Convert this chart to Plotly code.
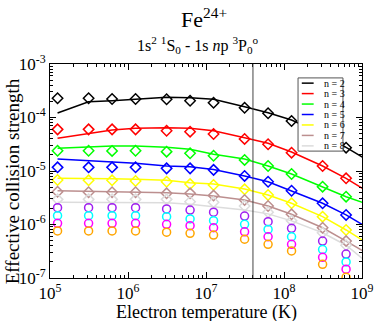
import plotly.graph_objects as go

# ------------------------------------------------------------
# Data
# ------------------------------------------------------------

temps = [1.25e5, 3.125e5, 6.25e5, 1.25e6, 3.125e6, 6.25e6,
         1.25e7, 3.125e7, 6.25e7, 1.25e8, 3.125e8, 6.25e8]
temps_fit = temps + [1.25e9]

labels = ["n = 2", "n = 3", "n = 4", "n = 5", "n = 6", "n = 7", "n = 8"]

n2 = [2.29e-4, 2.29e-4, 2.22e-4, 2.22e-4, 2.19e-4, 2.06e-4, 1.89e-4, 1.52e-4, 1.20e-4, 8.6e-5, 4.6e-5, 2.73e-5]
n3 = [6.0e-5, 6.0e-5, 6.0e-5, 6.0e-5, 5.66e-5, 5.43e-5, 4.92e-5, 3.98e-5, 3.16e-5, 2.2e-5, 1.24e-5, 7.3e-6]
n4 = [2.39e-5, 2.39e-5, 2.37e-5, 2.39e-5, 2.3e-5, 2.14e-5, 1.93e-5, 1.61e-5, 1.24e-5, 8.8e-6, 5.09e-6, 3.31e-6]
n5 = [1.17e-5, 1.17e-5, 1.17e-5, 1.17e-5, 1.12e-5, 1.12e-5, 1.05e-5, 8.1e-6, 6.3e-6, 4.28e-6, 2.49e-6, 1.51e-6]
n6 = [6.8e-6, 6.7e-6, 6.7e-6, 6.5e-6, 6.3e-6, 5.7e-6, 5.47e-6, 4.55e-6, 3.56e-6, 2.49e-6, 1.4e-6, 7.9e-7]
n7 = [4.1e-6, 4.0e-6, 4.0e-6, 4.0e-6, 3.83e-6, 3.83e-6, 3.47e-6, 2.87e-6, 2.22e-6, 1.55e-6, 8.7e-7, 4.9e-7]
n8 = [2.95e-6, 2.95e-6, 2.95e-6, 2.95e-6, 2.95e-6, 2.67e-6, 2.6e-6, 2.22e-6, 1.7e-6, 1.18e-6, 7.0e-7, 4.1e-7]

fit2 = [1.21e-4, 1.97e-4, 2.06e-4, 2.19e-4, 2.39e-4, 2.35e-4, 2.19e-4, 1.59e-4, 1.23e-4, 8.97e-5, 4.9e-5, 2.77e-5, 1.51e-5]
fit3 = [4.08e-5, 5.07e-5, 5.83e-5, 6.3e-5, 6.45e-5, 6.3e-5, 5.66e-5, 4.19e-5, 3.3e-5, 2.27e-5, 1.24e-5, 7.3e-6, 3.9e-6]
fit4 = [2.65e-5, 2.85e-5, 2.93e-5, 2.93e-5, 2.77e-5, 2.55e-5, 2.05e-5, 1.67e-5, 1.24e-5, 8.8e-6, 5.09e-6, 3.31e-6, 2.32e-6]
fit5 = [1.67e-5, 1.56e-5, 1.48e-5, 1.39e-5, 1.24e-5, 1.2e-5, 1.07e-5, 8.1e-6, 6.3e-6, 4.28e-6, 2.49e-6, 1.51e-6, 8.3e-7]
fit6 = [7.3e-6, 7.3e-6, 7.2e-6, 7.0e-6, 6.7e-6, 6.05e-6, 5.7e-6, 4.6e-6, 3.56e-6, 2.49e-6, 1.4e-6, 7.9e-7, 4.2e-7]
fit7 = [4.28e-6, 4.2e-6, 4.1e-6, 4.1e-6, 3.94e-6, 3.7e-6, 3.4e-6, 2.87e-6, 2.22e-6, 1.55e-6, 8.7e-7, 4.9e-7, 2.7e-7]
fit8 = [2.6e-6, 2.6e-6, 2.6e-6, 2.6e-6, 2.55e-6, 2.4e-6, 2.16e-6, 1.87e-6, 1.58e-6, 1.17e-6, 7.0e-7, 4.1e-7, 1.8e-7]

n9 = [2.06e-6, 2.06e-6, 2.06e-6, 2.06e-6, 1.95e-6, 1.86e-6, 1.7e-6, 1.44e-6, 1.13e-6, 8.5e-7, 4.9e-7, 2.8e-7]
n10 = [1.46e-6, 1.46e-6, 1.46e-6, 1.46e-6, 1.40e-6, 1.27e-6, 1.18e-6, 1.01e-6, 8.1e-7, 5.9e-7, 3.4e-7, 2.0e-7]
n11 = [1.05e-6, 1.05e-6, 1.05e-6, 1.05e-6, 1.01e-6, 9.5e-7, 8.7e-7, 7.3e-7, 5.9e-7, 4.27e-7, 2.44e-7, 1.46e-7]
n12 = [7.6e-7, 7.6e-7, 7.6e-7, 7.6e-7, 7.2e-7, 6.85e-7, 6.35e-7, 5.3e-7, 4.27e-7, 3.2e-7, 1.8e-7, 1.03e-7]

t_peak = 4.0e7

# tick labels
x_exps = [5, 6, 7, 8, 9]
y_exps = [-7, -6, -5, -4, -3]

# ------------------------------------------------------------
# Figure
# ------------------------------------------------------------

SERIF = "Liberation Serif, Times New Roman, serif"

line_colours = ["black", "red", "#00ff00", "blue", "#ffff00", "#bc8f8f", "#dcdcdc"]
circle_colours = ["#a020f0", "#00ffff", "#ff00ff", "#ffa500"]

diamonds = [n2, n3, n4, n5, n6, n7, n8]
fits = [fit2, fit3, fit4, fit5, fit6, fit7, fit8]
circles = [n9, n10, n11, n12]

fig = go.Figure()

for name, fit, colour in zip(labels, fits, line_colours):
    fig.add_trace(go.Scatter(x=temps_fit, y=fit, mode="lines", name=name,
                             showlegend=False,
                             line=dict(color=colour, width=1.5)))

for vals, colour in zip(diamonds, line_colours):
    fig.add_trace(go.Scatter(x=temps, y=vals, mode="markers", showlegend=False,
                             marker=dict(symbol="diamond-open", size=8,
                                         color=colour, line=dict(width=1.5))))

for vals, colour in zip(circles, circle_colours):
    fig.add_trace(go.Scatter(x=temps, y=vals, mode="markers", showlegend=False,
                             marker=dict(symbol="circle-open", size=8,
                                         color=colour, line=dict(width=1.5))))

fig.add_vline(x=t_peak, line_color="#444444", line_width=1)

# ------------------------------------------------------------
# Legend (drawn by hand, compact like the original)
# ------------------------------------------------------------

leg_x0, leg_x1 = 0.795, 0.939
leg_top, leg_bot = 0.935, 0.593
row = (leg_top - leg_bot) / len(labels)

fig.add_shape(type="rect", xref="paper", yref="paper",
              x0=leg_x0, x1=leg_x1, y0=leg_bot, y1=leg_top,
              fillcolor="white", line=dict(color="#555555", width=1),
              layer="above")

for i, (name, colour) in enumerate(zip(labels, line_colours)):
    yc = leg_top - row * (i + 0.5)
    fig.add_shape(type="line", xref="paper", yref="paper",
                  x0=leg_x0 + 0.012, x1=leg_x0 + 0.050, y0=yc, y1=yc,
                  line=dict(color=colour, width=1.5), layer="above")
    fig.add_annotation(x=leg_x0 + 0.078, y=yc, xref="paper", yref="paper",
                       text=name, showarrow=False, xanchor="left",
                       yanchor="middle", font=dict(family=SERIF, size=10))

# ------------------------------------------------------------
# Titles
# ------------------------------------------------------------

fig.add_annotation(x=0.495, y=1.215, xref="paper", yref="paper",
                   text="Fe<sup>24+</sup>", showarrow=False,
                   yanchor="middle", font=dict(family=SERIF, size=22))

fig.add_annotation(x=0.473, y=1.09, xref="paper", yref="paper",
                   text="1s<sup>2</sup> <sup>1</sup>S<sub>0</sub> - 1s <i>n</i>p "
                        "<sup>3</sup>P<sub>0</sub><sup>o</sup>",
                   showarrow=False, yanchor="middle",
                   font=dict(family=SERIF, size=16))

fig.add_annotation(x=0.50, y=-0.16, xref="paper", yref="paper",
                   text="Electron temperature (K)", showarrow=False,
                   yanchor="middle", font=dict(family=SERIF, size=18))

fig.add_annotation(x=-0.12, y=0.45, xref="paper", yref="paper",
                   text="Effective collision strength", showarrow=False,
                   textangle=-90, xanchor="center", yanchor="middle",
                   font=dict(family=SERIF, size=19))

fig.update_layout(
    width=374,
    height=321,
    margin=dict(l=50, r=12, t=64, b=43, autoexpand=False),
    paper_bgcolor="white",
    plot_bgcolor="white",
    font=dict(family=SERIF, color="black", size=16),
    showlegend=False,
)

def power_labels(exps):
    return [f"10<sup>{e}</sup>" for e in exps]

def minor_vals(exps):
    return [m * 10.0 ** e for e in exps[:-1] for m in range(2, 10)]

axis_style = dict(
    type="log",
    tickmode="array",
    tickfont=dict(family=SERIF, size=17, color="black"),
    ticklabeloverflow="allow",
    ticks="inside", ticklen=6, tickcolor="black",
    showline=True, linecolor="black", linewidth=1, mirror="ticks",
    showgrid=False, zeroline=False, automargin=False,
)

fig.update_xaxes(
    range=[5, 9],
    tickvals=[10.0 ** e for e in x_exps], ticktext=power_labels(x_exps),
    minor=dict(tickmode="array", tickvals=minor_vals(x_exps),
               ticks="inside", ticklen=3, tickcolor="black", showgrid=False),
    **axis_style,
)
fig.update_yaxes(
    range=[-7, -3],
    tickvals=[10.0 ** e for e in y_exps], ticktext=power_labels(y_exps),
    minor=dict(tickmode="array", tickvals=minor_vals(y_exps),
               ticks="inside", ticklen=3, tickcolor="black", showgrid=False),
    **axis_style,
)

# drop the default body margin so the figure sits at the window's corner
fig.write_html("out.html", config={"displayModeBar": False},
               post_script="document.body.style.margin = '0';")
